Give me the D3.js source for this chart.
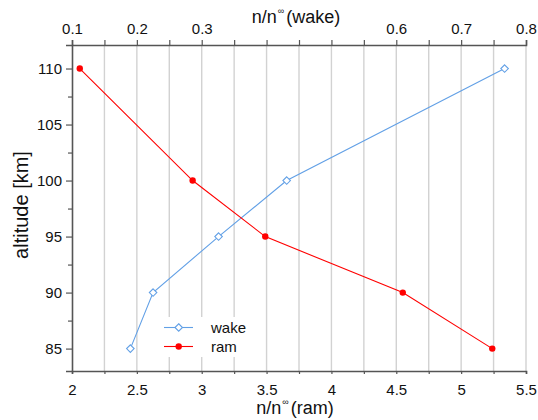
<!DOCTYPE html>
<html><head><meta charset="utf-8">
<script src="https://cdn.jsdelivr.net/npm/d3@7"></script>
<style>body{margin:0;background:#fff;} svg{display:block;font-family:"Liberation Sans",Arial,Helvetica,sans-serif;}</style>
</head><body>
<script>
const altitudes = [85, 90, 95, 100, 110];
const wakeValues = [0.19, 0.225, 0.326, 0.431, 0.767];
const ramValues = [5.24, 4.55, 3.49, 2.93, 2.06];
const ramTicks = [2, 2.5, 3, 3.5, 4, 4.5, 5, 5.5];
const wakeTicks = [0.1, 0.2, 0.3, 0.6, 0.7, 0.8];
const altTicks = [85, 90, 95, 100, 105, 110];
const seriesNames = ["wake", "ram"];

const W = 538, H = 420;
const m = {left: 72, right: 526, top: 45, bottom: 371};
const svg = d3.select("body").append("svg").attr("width", W).attr("height", H);

const xRam = d3.scaleLinear().domain([2, 5.5]).range([m.left, m.right]);
const xWake = d3.scaleLinear().domain([0.1, 0.8]).range([m.left, m.right]);
const y = d3.scaleLinear().domain([83, 112.1]).range([m.bottom, m.top]);

const gridColor = "#d2d2d2", axisColor = "#555";
const blue = "#62a0e6", red = "#ff0000";
const FONT = "Liberation Sans, Arial, sans-serif";

// grid
const gridVals = d3.range(2.25, 5.51, 0.25);
svg.append("g").selectAll("line").data(gridVals).join("line")
  .attr("x1", d => xRam(d)).attr("x2", d => xRam(d))
  .attr("y1", m.top).attr("y2", m.bottom)
  .attr("stroke", gridColor).attr("stroke-width", 1.4);

// bottom axis
const gB = svg.append("g").attr("transform", `translate(0,${m.bottom})`)
  .call(d3.axisBottom(xRam).tickValues(d3.range(2, 5.51, 0.25)).tickSize(3)
    .tickFormat(d => ramTicks.some(t => Math.abs(t - d) < 1e-6) ? d3.format("~g")(d) : ""));
gB.select(".domain").attr("stroke", axisColor).attr("stroke-width", 1.6);
gB.selectAll(".tick line").attr("stroke", axisColor).attr("stroke-width", 1.2);
gB.selectAll(".tick text").attr("font-size", 15).attr("fill", "#111").attr("dy", "1.18em").attr("font-family", FONT);

// top axis
const gT = svg.append("g").attr("transform", `translate(0,${m.top})`)
  .call(d3.axisTop(xWake).tickValues(d3.range(0.1, 0.801, 0.05)).tickSize(5)
    .tickFormat(d => wakeTicks.some(t => Math.abs(t - d) < 1e-6) ? d3.format(".1f")(d) : ""));
gT.select(".domain").attr("stroke", axisColor).attr("stroke-width", 1.6);
gT.selectAll(".tick line").attr("stroke", axisColor).attr("stroke-width", 1.2);
gT.selectAll(".tick text").attr("font-size", 15).attr("fill", "#111").attr("font-family", FONT).attr("y", -11);

// left axis
const gL = svg.append("g").attr("transform", `translate(${m.left},0)`)
  .call(d3.axisLeft(y).tickValues(d3.range(85, 112, 2.5)).tickSize(6)
    .tickFormat(d => altTicks.includes(d) ? d : ""));
gL.select(".domain").attr("stroke", axisColor).attr("stroke-width", 1.6);
gL.selectAll(".tick line").attr("stroke", axisColor).attr("stroke-width", 1.2)
  .attr("x2", d => altTicks.includes(d) ? -6 : -4);
gL.selectAll(".tick text").attr("font-size", 15).attr("fill", "#111").attr("x", -10).attr("font-family", FONT);

// titles
function supTitle(x, yy, prefix, suffix) {
  const t = svg.append("text").attr("x", x).attr("y", yy).attr("text-anchor", "middle")
    .attr("font-size", 18).attr("fill", "#111");
  t.append("tspan").text(prefix);
  t.append("tspan").text("∞").attr("font-size", 9).attr("dy", -9).attr("dx", 1);
  t.append("tspan").text(suffix).attr("dy", 9).attr("dx", 2);
}
supTitle(296, 22.5, "n/n", "(wake)");
supTitle(295, 413.5, "n/n", "(ram)");
svg.append("text").attr("transform", `translate(28,205) rotate(-90)`)
  .attr("text-anchor", "middle").attr("font-size", 20).attr("fill", "#111").text("altitude [km]");

// lines
const wakeData = altitudes.map((a, i) => ({a, v: wakeValues[i]}));
const ramData = altitudes.map((a, i) => ({a, v: ramValues[i]}));

svg.append("path").datum(wakeData)
  .attr("d", d3.line().x(d => xWake(d.v)).y(d => y(d.a)))
  .attr("fill", "none").attr("stroke", blue).attr("stroke-width", 1.1);
svg.append("path").datum(ramData)
  .attr("d", d3.line().x(d => xRam(d.v)).y(d => y(d.a)))
  .attr("fill", "none").attr("stroke", red).attr("stroke-width", 1.1);

const diamond = d3.symbol().type(d3.symbolDiamond2).size(36);
svg.append("g").selectAll("path").data(wakeData).join("path")
  .attr("transform", d => `translate(${xWake(d.v)},${y(d.a)})`)
  .attr("d", diamond).attr("fill", "#fff").attr("stroke", blue).attr("stroke-width", 1.1);
svg.append("g").selectAll("circle").data(ramData).join("circle")
  .attr("cx", d => xRam(d.v)).attr("cy", d => y(d.a)).attr("r", 3.2).attr("fill", red);

// legend
const lg = svg.append("g");
lg.append("rect").attr("x", 157).attr("y", 317).attr("width", 95).attr("height", 40).attr("fill", "#fff");
const rows = [{name: seriesNames[0], color: blue, yy: 327.5}, {name: seriesNames[1], color: red, yy: 346.5}];
rows.forEach((r, i) => {
  lg.append("line").attr("x1", 164).attr("x2", 193).attr("y1", r.yy).attr("y2", r.yy)
    .attr("stroke", r.color).attr("stroke-width", 1.1);
  if (i === 0) {
    lg.append("path").attr("transform", `translate(178.7,${r.yy})`).attr("d", diamond)
      .attr("fill", "#fff").attr("stroke", r.color).attr("stroke-width", 1.1);
  } else {
    lg.append("circle").attr("cx", 178.7).attr("cy", r.yy).attr("r", 3.2).attr("fill", r.color);
  }
  lg.append("text").attr("x", 211).attr("y", r.yy + 5).attr("font-size", 15).attr("fill", "#111").text(r.name);
});
</script>
</body></html>
